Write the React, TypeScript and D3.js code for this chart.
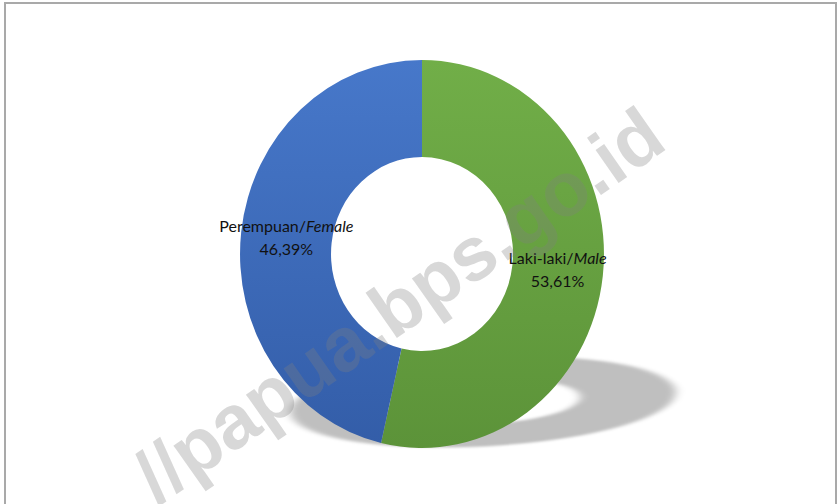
import React from "react";
import * as d3 from "d3";

const categories = ["Laki-laki/", "Perempuan/"];
const categoriesItalic = ["Male", "Female"];
const values = [53.61, 46.39];
const valueLabels = ["53,61%", "46,39%"];
const colorsTop = ["#71AE48", "#4778CA"];
const colorsBottom = ["#5C9339", "#335DA8"];

const W = 838;
const H = 504;

export default function App() {
  const cx = 422;
  const cy = 254;
  const outerR = 194;
  const innerR = 97;
  const sx = 0.938;

  const pie = d3.pie<number>().sort(null).value((d) => d)(values);
  const arc = d3.arc<d3.PieArcDatum<number>>().outerRadius(outerR).innerRadius(innerR);
  const shadowArc = d3.arc<any>().outerRadius(193).innerRadius(97).startAngle(0).endAngle(2 * Math.PI);

  return (
    <svg width={W} height={H} style={{ position: "absolute", left: 0, top: 0 }}>
      <defs>
        {values.map((_, i) => (
          <linearGradient key={i} id={`g${i}`} x1="0" y1={-outerR} x2="0" y2={outerR} gradientUnits="userSpaceOnUse">
            <stop offset="0" stopColor={colorsTop[i]} />
            <stop offset="1" stopColor={colorsBottom[i]} />
          </linearGradient>
        ))}
        <filter id="blur" x="-20%" y="-60%" width="140%" height="220%">
          <feGaussianBlur stdDeviation="5 4" />
        </filter>
      </defs>
      <rect x={0} y={0} width={W} height={H} fill="#fff" />
      <rect x={5} y={3} width={831} height={520} fill="none" stroke="#a9a9a9" strokeWidth={2} />
      <g transform={`translate(483,402) rotate(-3) scale(1,0.23)`} filter="url(#blur)">
        <path d={shadowArc({}) as string} fill="#000" opacity={0.25} />
      </g>
      <g transform={`translate(${cx},${cy}) scale(${sx},1)`}>
        {pie.map((p, i) => (
          <path key={i} d={arc(p) as string} fill={`url(#g${i})`} />
        ))}
      </g>
      {pie.map((p, i) => {
        const [x, y] = arc.centroid(p);
        const lx = cx + x * sx;
        const ly = cy + y;
        return (
          <text key={i} x={lx} y={ly} textAnchor="middle" fontFamily="Lato, 'Open Sans', sans-serif" fontSize={16} fill="#111">
            <tspan x={lx} dy={-6}>
              {categories[i]}
              <tspan fontStyle="italic">{categoriesItalic[i]}</tspan>
            </tspan>
            <tspan x={lx} dy={23}>{valueLabels[i]}</tspan>
          </text>
        );
      })}
      <text
        x={0}
        y={0}
        transform="translate(402,310) rotate(-35)"
        textAnchor="middle"
        dominantBaseline="middle"
        fontFamily="'Liberation Sans', Arial, sans-serif"
        fontWeight="bold"
        fontSize={76}
        fill="#808080"
        opacity={0.3}
      >
        //papua.bps.go.id
      </text>
    </svg>
  );
}
